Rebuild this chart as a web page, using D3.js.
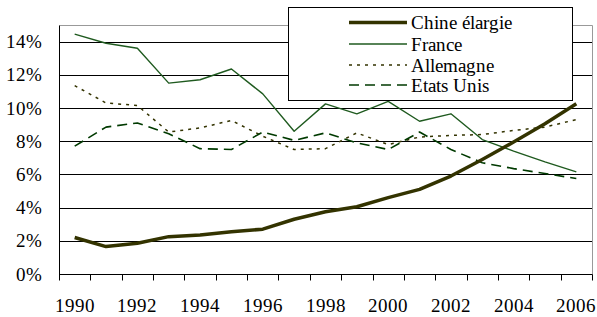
<!DOCTYPE html>
<html><head><meta charset="utf-8">
<script src="https://cdn.jsdelivr.net/npm/d3@7"></script>
<style>
@font-face{font-family:"ChartSerif";src:local("Liberation Serif"),local("LiberationSerif"),local("Liberation Serif Regular"),local("Tinos"),local("DejaVu Serif");}
</style>
</head><body style="margin:0;background:#fff">
<svg id="c" width="597" height="317" style="display:block"></svg>
<script>
const years = [1990,1991,1992,1993,1994,1995,1996,1997,1998,1999,2000,2001,2002,2003,2004,2005,2006];
const chine = [2.2,1.65,1.85,2.25,2.35,2.55,2.7,3.3,3.75,4.05,4.6,5.1,5.9,6.9,7.95,9.05,10.25];
const france = [14.45,13.9,13.6,11.5,11.7,12.35,10.85,8.6,10.25,9.65,10.4,9.2,9.65,8.1,7.4,6.75,6.15];
const allemagne = [11.35,10.3,10.15,8.55,8.8,9.25,8.3,7.5,7.55,8.5,7.8,8.25,8.35,8.4,8.65,8.85,9.3];
const etatsUnis = [7.7,8.85,9.1,8.45,7.55,7.5,8.55,8.05,8.5,7.9,7.5,8.55,7.5,6.7,6.35,6.05,5.75];
const yTicks = [0,2,4,6,8,10,12,14];
const xLabels = [1990,1992,1994,1996,1998,2000,2002,2004,2006];
const seriesNames = ["Chine élargie","France","Allemagne","Etats Unis"];

const series = [
  {name: seriesNames[0], values: chine, color:"#333300", width:3.5, dash:null},
  {name: seriesNames[1], values: france, color:"#1f5a1f", width:1.4, dash:null},
  {name: seriesNames[2], values: allemagne, color:"#333300", width:1.5, dash:"3,5"},
  {name: seriesNames[3], values: etatsUnis, color:"#003a00", width:1.6, dash:"10,6"}
];

const TXT = "font-family:ChartSerif,'Liberation Serif',serif;";
const svg = d3.select("#c");
const L=59, R=592, T=25, B=274;
const x = d3.scaleBand().domain(years).range([L,R]);
const y = d3.scaleLinear().domain([0,15]).range([B,T]);
const cx = d=>x(d)+x.bandwidth()/2;
const px = v=>Math.round(v)+0.5;

svg.append("g").selectAll("line").data(yTicks.filter(d=>d>0)).join("line")
  .attr("x1",L).attr("x2",R).attr("y1",d=>px(y(d))).attr("y2",d=>px(y(d)))
  .attr("stroke","#000").attr("stroke-width",1);
svg.append("path").attr("d",`M${px(L)},${px(T)}H${px(R)}V${px(B)}`).attr("fill","none").attr("stroke","#999").attr("stroke-width",1);

const yAxisG = svg.append("g");
yAxisG.append("line").attr("x1",px(L)).attr("x2",px(L)).attr("y1",px(T)).attr("y2",px(B)).attr("stroke","#000");
yAxisG.selectAll("text").data(yTicks).join("text")
  .attr("x",L-17).attr("y",d=>y(d)+6.5).attr("text-anchor","end")
  .attr("style",TXT+"font-size:19px;fill:#000").text(d=>d+"%");

const xa = svg.append("g").attr("transform",`translate(0,${px(B)})`);
xa.append("line").attr("x1",L).attr("x2",R+0.5).attr("y1",0).attr("y2",0).attr("stroke","#000");
const bounds = years.map(d=>x(d)).concat([R]);
xa.selectAll("line.t").data(bounds).join("line").attr("class","t")
  .attr("x1",d=>px(d)).attr("x2",d=>px(d)).attr("y1",0).attr("y2",6).attr("stroke","#000");
xa.selectAll("text").data(xLabels).join("text")
  .attr("x",d=>cx(d)).attr("y",37).attr("text-anchor","middle")
  .attr("style",TXT+"font-size:19px;fill:#000").text(d=>d);

const line = d3.line().x((d,i)=>cx(years[i])).y(d=>y(d));
[2,3,1,0].forEach(k=>{
  const s = series[k];
  svg.append("path").datum(s.values).attr("d",line)
    .attr("fill","none").attr("stroke",s.color).attr("stroke-width",s.width)
    .attr("stroke-dasharray",s.dash).attr("stroke-linejoin","round");
});

const lg = svg.append("g");
lg.append("rect").attr("x",288.5).attr("y",7.5).attr("width",284).attr("height",93)
  .attr("fill","#fff").attr("stroke","#000").attr("stroke-width",1);
const rowsY = [22.5,44,65,85];
series.forEach((s,i)=>{
  lg.append("line").attr("x1",349).attr("x2",407).attr("y1",rowsY[i]).attr("y2",rowsY[i])
    .attr("stroke",s.color).attr("stroke-width",s.width).attr("stroke-dasharray",s.dash);
  lg.append("text").attr("x",411).attr("y",rowsY[i]+6.5)
    .attr("style",TXT+"font-size:19px;fill:#000").text(s.name);
});
</script>
</body></html>
